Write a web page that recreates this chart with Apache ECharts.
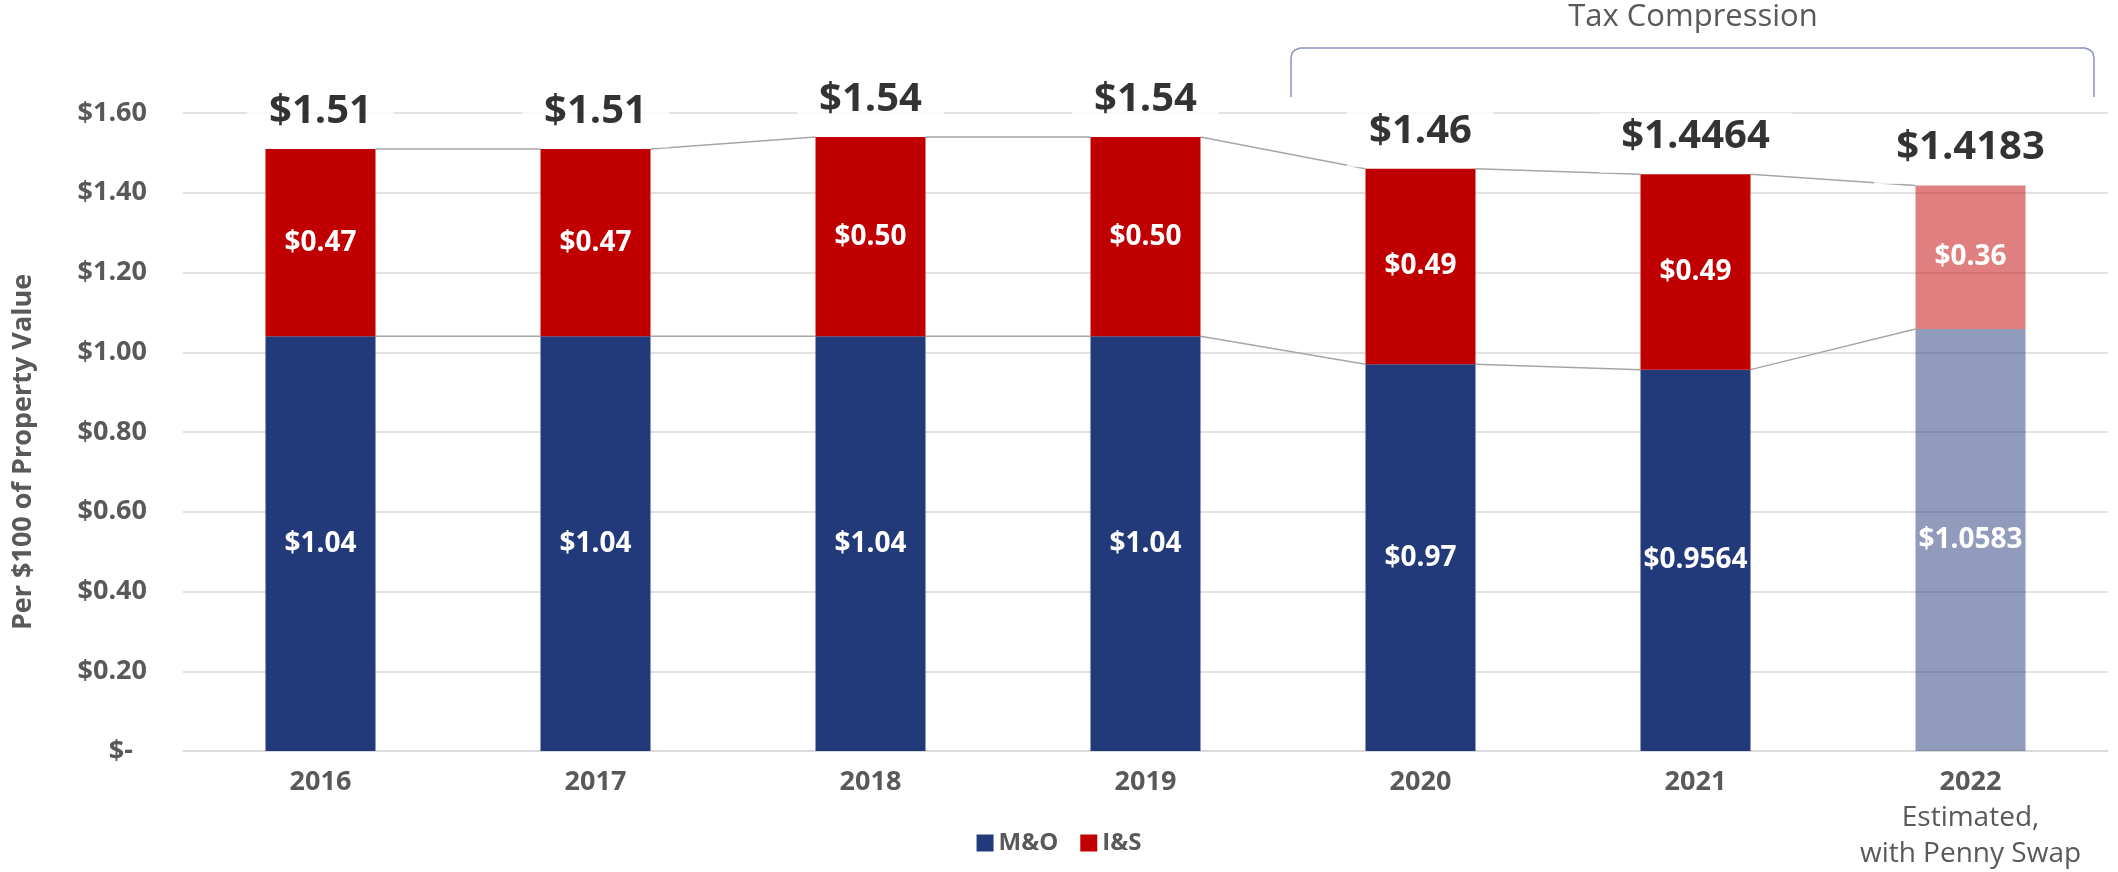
<!DOCTYPE html>
<html>
<head>
<meta charset="utf-8">
<script src="https://cdn.jsdelivr.net/npm/echarts@6/dist/echarts.min.js"></script>
<style>
  html, body { margin: 0; padding: 0; background: #fff; }
  #chart { width: 2118px; height: 872px; }
</style>
</head>
<body>
<div id="chart"></div>
<script>
const years = ['2016', '2017', '2018', '2019', '2020', '2021', '2022'];
const yearNotes = ['', '', '', '', '', '', 'Estimated,\nwith Penny Swap'];
const moRates = [1.04, 1.04, 1.04, 1.04, 0.97, 0.9564, 1.0583];
const isRates = [0.47, 0.47, 0.50, 0.50, 0.49, 0.49, 0.36];
const totalRates = [1.51, 1.51, 1.54, 1.54, 1.46, 1.4464, 1.4183];
const estimated = [false, false, false, false, false, false, true];
const yTicks = [0, 0.2, 0.4, 0.6, 0.8, 1.0, 1.2, 1.4, 1.6];

const FONT = 'Open Sans';
const GREY = '#595959';
const NAVY = '#233a7a';
const RED = '#c00000';

// keep at least two decimals, but show all the ones the source shows
const money = (v) => {
  const d = Math.max(2, (String(v).split('.')[1] || '').length);
  return '$' + Number(v).toFixed(d);
};

const chart = echarts.init(document.getElementById('chart'));

const segLabel = {
  show: true,
  position: 'inside',
  formatter: (p) => money(p.value),
  fontFamily: FONT,
  fontSize: 28,
  fontWeight: 'bold',
  color: '#fff',
};

const option = {
  animation: false,
  grid: { left: 183, right: 10, top: 113, bottom: 121 },
  legend: {
    data: ['M&O', 'I&S'],
    left: 'center',
    top: 826,
    icon: 'rect',
    itemWidth: 17,
    itemHeight: 17,
    itemGap: 22,
    textStyle: { fontFamily: FONT, fontSize: 24, fontWeight: 'bold', color: GREY },
  },
  xAxis: {
    type: 'category',
    data: years,
    axisTick: { show: false },
    axisLine: { lineStyle: { color: '#d9d9d9', width: 1.5 } },
    axisLabel: {
      margin: 14,
      formatter: (v, i) => {
        const note = yearNotes[i];
        if (!note) return '{yr|' + v + '}';
        return '{yr|' + v + '}\n' + note.split('\n').map((t) => '{note|' + t + '}').join('\n');
      },
      rich: {
        yr: { fontFamily: FONT, fontSize: 27, fontWeight: 'bold', color: GREY, lineHeight: 35 },
        note: { fontFamily: FONT, fontSize: 28, color: GREY, lineHeight: 36 },
      },
    },
  },
  yAxis: {
    type: 'value',
    min: yTicks[0],
    max: yTicks[yTicks.length - 1],
    interval: 0.2,
    name: 'Per $100 of Property Value',
    nameLocation: 'middle',
    nameGap: 146,
    nameTextStyle: {
      fontFamily: FONT,
      fontSize: 27,
      fontWeight: 'bold',
      color: GREY,
      padding: [0, 40, 0, 0],
    },
    axisLine: { show: false },
    axisTick: { show: false },
    splitLine: { lineStyle: { color: '#d9d9d9', width: 1.5 } },
    axisLabel: {
      margin: 36,
      fontFamily: FONT,
      fontSize: 27,
      fontWeight: 'bold',
      color: GREY,
      formatter: (v) => (v === 0 ? '$-  ' : '$' + v.toFixed(2)),
    },
  },
  series: [
    {
      // thin grey lines joining the bar tops, as in the Excel original
      type: 'custom',
      name: 'links',
      z: 1,
      silent: true,
      data: years.slice(0, -1).map((y, i) => [i, moRates[i], totalRates[i]]),
      encode: { x: 0, y: [1, 2] },
      renderItem: (params, api) => {
        const i = api.value(0);
        const half = api.size([1, 0])[0] * 0.2;
        const link = (arr) => {
          const a = api.coord([i, arr[i]]);
          const b = api.coord([i + 1, arr[i + 1]]);
          return {
            type: 'line',
            shape: { x1: a[0] + half, y1: a[1], x2: b[0] - half, y2: b[1] },
            style: { stroke: '#a6a6a6', lineWidth: 1.5 },
          };
        };
        return { type: 'group', children: [link(moRates), link(totalRates)] };
      },
    },
    {
      name: 'M&O',
      type: 'bar',
      stack: 'rate',
      barWidth: '40%',
      z: 2,
      itemStyle: { color: NAVY },
      data: moRates.map((v, i) => ({
        value: v,
        itemStyle: estimated[i] ? { color: 'rgba(35,58,122,0.5)' } : undefined,
      })),
      label: segLabel,
    },
    {
      name: 'I&S',
      type: 'bar',
      stack: 'rate',
      barWidth: '40%',
      z: 2,
      itemStyle: { color: RED },
      data: isRates.map((v, i) => ({
        value: v,
        itemStyle: estimated[i] ? { color: 'rgba(192,0,0,0.5)' } : undefined,
      })),
      label: segLabel,
    },
    {
      // total labels on top of each stack
      name: 'Total',
      type: 'scatter',
      z: 5,
      silent: true,
      symbolSize: 1,
      itemStyle: { color: 'rgba(0,0,0,0)' },
      data: totalRates,
      label: {
        show: true,
        position: 'top',
        distance: 1,
        formatter: (p) => money(p.value),
        fontFamily: FONT,
        fontSize: 40,
        fontWeight: 'bold',
        color: '#000',
        backgroundColor: '#fff',
        padding: [4, 22, 16, 22],
      },
    },
  ],
  graphic: [
    {
      type: 'text',
      x: 1693,
      y: 17,
      style: {
        text: 'Tax Compression',
        fontFamily: FONT,
        fontSize: 31,
        fill: GREY,
        align: 'center',
        verticalAlign: 'middle',
      },
    },
    {
      type: 'polyline',
      shape: {
        points: [[1291, 97], [1291, 58], [1292, 53], [1295, 50], [1300, 48], [2085, 48], [2090, 50], [2093, 53], [2094, 58], [2094, 97]],
      },
      style: { stroke: '#8a93c4', lineWidth: 1.5, fill: null },
    },
  ],
};

chart.setOption(option);
</script>
</body>
</html>
